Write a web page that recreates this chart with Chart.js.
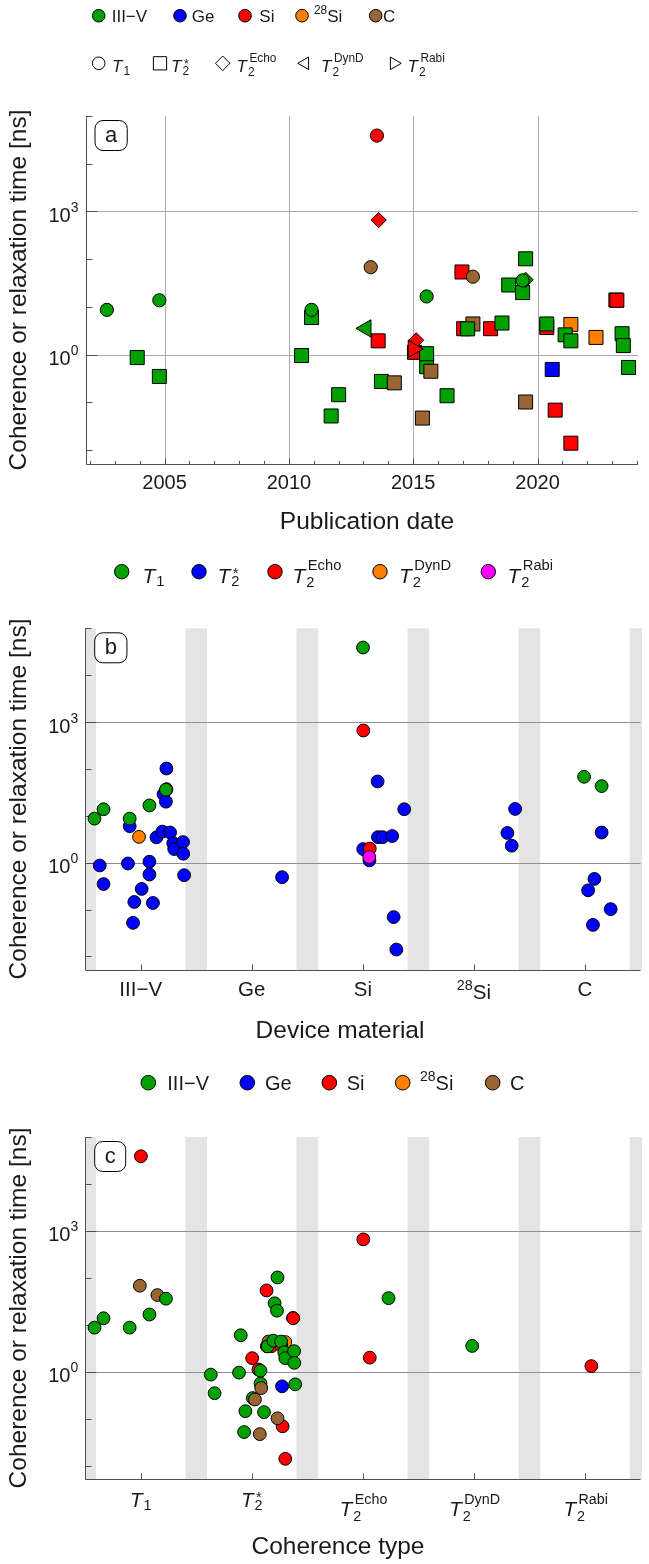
<!DOCTYPE html>
<html>
<head>
<meta charset="utf-8">
<title>Coherence and relaxation times</title>
<script src="https://cdn.jsdelivr.net/npm/chart.js@4.4.1/dist/chart.umd.min.js"></script>
<style>
  html, body { margin: 0; padding: 0; background: #fff; }
  #page { position: relative; width: 649px; height: 1564px; overflow: hidden; font-family: "Liberation Sans", Arial, sans-serif; color: #1a1a1a; }
  #page canvas { position: absolute; left: 0; }
  .ytitle, .xtitle { position: absolute; white-space: nowrap; font-size: 24.5px; line-height: 1; }
  .ytitle { left: 18px; transform: translate(-50%, -50%) rotate(-90deg); }
  .xtitle { transform: translate(-50%, -50%); }
</style>
</head>
<body>
<div id="page">
  <canvas id="byDate" width="649" height="540" style="top:0"></canvas>
  <canvas id="byMaterial" width="649" height="510" style="top:540px"></canvas>
  <canvas id="byType" width="649" height="514" style="top:1050px"></canvas>
  <div class="ytitle" style="top:290px">Coherence or relaxation time [ns]</div>
  <div class="xtitle" style="left:367px;top:521px">Publication date</div>
  <div class="ytitle" style="top:799px">Coherence or relaxation time [ns]</div>
  <div class="xtitle" style="left:340px;top:1030px">Device material</div>
  <div class="ytitle" style="top:1308px">Coherence or relaxation time [ns]</div>
  <div class="xtitle" style="left:338px;top:1546px">Coherence type</div>
</div>
<script>
const materials = ["III−V", "Ge", "Si", "28Si", "C"]
const coherenceTypes = ["T1", "T2*", "T2 Echo", "T2 DynD", "T2 Rabi"]
const materialColors = ["#00a000", "#0000ff", "#ff0000", "#ff8000", "#996633"]
const typeColors = ["#00a000", "#0000ff", "#ff0000", "#ff8000", "#ff00ff"]

// tick labels
const materialLabels = [{ text: "III−V" }, { text: "Ge" }, { text: "Si" }, { pre: "28", text: "Si" }, { text: "C" }]
const typeLabels = [
  { text: "T", italic: true, sub: "1" },
  { text: "T", italic: true, sub: "2", sup: "*" },
  { text: "T", italic: true, sub: "2", sup: "Echo" },
  { text: "T", italic: true, sub: "2", sup: "DynD" },
  { text: "T", italic: true, sub: "2", sup: "Rabi" },
]
const yearTicks = [2005, 2010, 2015, 2020]
const decadeTicks = [0.01, 0.1, 1, 10, 100, 1000, 10000, 100000]
const labelledDecades = [1, 1000]

// one entry per reported time, listed in drawing order
const pubYear = [
  2021.34, 2022.35, 2023.15,                                                  // 28Si T2*
  2013.59, 2015.05, 2016.96, 2017.03, 2018.11, 2020.37, 2020.71, 2021.34, 2023.19, // Si T2*
  2013.72, 2015.54,                                                           // III-V T2*
  2014.24, 2015.37, 2015.71, 2017.40, 2019.52,                                // C T2*
  2013.29, 2017.40,                                                           // C T1
  2020.59,                                                                    // Ge T2*
  2003.90, 2004.79, 2010.51, 2010.91, 2011.70, 2012.00, 2015.54, 2016.36, 2017.19, 2018.57,
  2018.84, 2019.40, 2019.52, 2020.37, 2021.11, 2021.34, 2023.40, 2023.45, 2023.66, // III-V T2*
  2013.61, 2015.12,                                                           // Si echo
  2015.00,                                                                    // Si Rabi
  2019.52,                                                                    // III-V echo
  2013.10,                                                                    // III-V DynD
  2002.68, 2004.79, 2010.91, 2015.54, 2019.40,                                // III-V T1
  2013.54,                                                                    // Si T1
]
const timeNs = [
  4.3, 2.3, 14,
  1.95, 1.12, 54, 3.5, 3.5, 3.7, 0.069, 0.014, 13.8,
  0.275, 0.56,
  0.257, 0.047, 0.45, 4.4, 0.102,
  68, 43,
  0.49,
  0.87, 0.35, 0.96, 6.0, 0.052, 0.145, 1.05, 0.138, 3.47, 4.6,
  28.8, 20, 102, 4.4, 2.6, 1.95, 2.75, 1.55, 0.54,
  660, 2.0,
  1.32,
  37,
  3.55,
  8.7, 13.8, 8.7, 16.6, 36,
  38900,
]
const pointMaterial = [
  3, 3, 3,
  2, 2, 2, 2, 2, 2, 2, 2, 2,
  0, 0,
  4, 4, 4, 4, 4,
  4, 4,
  1,
  0, 0, 0, 0, 0, 0, 0, 0, 0, 0,
  0, 0, 0, 0, 0, 0, 0, 0, 0,
  2, 2,
  2,
  0,
  0,
  0, 0, 0, 0, 0,
  2,
]
const pointType = [
  1, 1, 1,
  1, 1, 1, 1, 1, 1, 1, 1, 1,
  1, 1,
  1, 1, 1, 1, 1,
  0, 0,
  1,
  1, 1, 1, 1, 1, 1, 1, 1, 1, 1,
  1, 1, 1, 1, 1, 1, 1, 1, 1,
  2, 2,
  4,
  2,
  3,
  0, 0, 0, 0, 0,
  0,
]

// styling
const FONT = '"Liberation Sans", Arial, sans-serif'
const typePointStyle = ["circle", "rect", "rectRot", "triangle", "triangle"]
const typeRotation = [0, 0, 0, -90, 90]
const typeRadius = [6.6, 9.9, 7.6, 10, 10]
const typeLegendShape = ["circle", "square", "diamond", "left", "right"]
const yMin = Math.pow(10, -2.29)
const yMax = 1e5

// horizontal spread inside a category follows the publication year
const spread = pubYear.map((t) => (t - 2013.5) / 26)

function fontOf(size, italic) {
  return (italic ? "italic " : "") + size + "px " + FONT
}

function measureRich(ctx, p, size) {
  const small = size * 0.7
  ctx.font = fontOf(small)
  const pre = p.pre ? ctx.measureText(p.pre).width : 0
  const sup = p.sup ? ctx.measureText(p.sup).width : 0
  const sub = p.sub ? ctx.measureText(p.sub).width : 0
  ctx.font = fontOf(size, p.italic)
  const main = ctx.measureText(p.text).width
  const gap = p.italic && (p.sup || p.sub) ? 1 : 0
  return { pre, main, gap, total: pre + main + gap + Math.max(sup, sub) }
}

function drawRich(ctx, p, x, baseline, size, align) {
  const m = measureRich(ctx, p, size)
  let cx = align === "center" ? x - m.total / 2 : align === "right" ? x - m.total : x
  const small = size * 0.7
  const stacked = p.sup && p.sub && p.sup !== "*"
  ctx.textAlign = "left"
  ctx.textBaseline = "alphabetic"
  if (p.pre) {
    ctx.font = fontOf(small)
    ctx.fillText(p.pre, cx, baseline - size * 0.45)
    cx += m.pre
  }
  ctx.font = fontOf(size, p.italic)
  ctx.fillText(p.text, cx, baseline)
  cx += m.main + m.gap
  ctx.font = fontOf(small)
  if (p.sup) {
    const raise = p.sup === "*" ? size * 0.22 : stacked ? size * 0.62 : size * (p.raise || 0.45)
    ctx.fillText(p.sup, cx + (p.italic ? 1.5 : 0), baseline - raise)
  }
  if (p.sub) ctx.fillText(p.sub, cx, baseline + (stacked ? size * 0.22 : size * 0.15))
}

function drawMarker(ctx, shape, x, y, r, fill) {
  ctx.beginPath()
  if (shape === "square") ctx.rect(x - r, y - r, 2 * r, 2 * r)
  else if (shape === "diamond") {
    ctx.moveTo(x, y - r); ctx.lineTo(x + r, y); ctx.lineTo(x, y + r); ctx.lineTo(x - r, y); ctx.closePath()
  } else if (shape === "left" || shape === "right") {
    const s = shape === "left" ? -1 : 1
    ctx.moveTo(x + s * r, y); ctx.lineTo(x - s * r * 0.5, y - r * 0.866); ctx.lineTo(x - s * r * 0.5, y + r * 0.866); ctx.closePath()
  } else ctx.arc(x, y, r, 0, Math.PI * 2)
  ctx.fillStyle = fill
  ctx.fill()
  ctx.lineWidth = 1
  ctx.strokeStyle = "#000"
  ctx.stroke()
}

function roundRect(ctx, x, y, w, h, r) {
  ctx.beginPath()
  ctx.moveTo(x + r, y)
  ctx.arcTo(x + w, y, x + w, y + h, r)
  ctx.arcTo(x + w, y + h, x, y + h, r)
  ctx.arcTo(x, y + h, x, y, r)
  ctx.arcTo(x, y, x + w, y, r)
  ctx.closePath()
}

// axes, bands, grid, tick labels, panel letter and legends
const framePlugin = {
  id: "frame",
  beforeDatasetsDraw(chart, args, o) {
    const { ctx, chartArea: a } = chart
    const x = chart.scales.x
    const y = chart.scales.y
    ctx.save()
    if (o.categories) {
      ctx.fillStyle = "#e4e4e4"
      for (let k = -1; k < o.categories.length; k++) {
        const l = Math.max(a.left, x.getPixelForValue(k + 0.4025))
        const r = Math.min(a.right + 1.5, x.getPixelForValue(k + 0.5975))
        if (r > l) ctx.fillRect(l, a.top, r - l, a.bottom - a.top)
      }
    }
    ctx.strokeStyle = o.gridColor
    ctx.lineWidth = 1
    ctx.beginPath()
    labelledDecades.forEach((v) => {
      const py = Math.round(y.getPixelForValue(v)) + 0.5
      ctx.moveTo(a.left, py); ctx.lineTo(a.right, py)
    })
    if (!o.categories) {
      yearTicks.forEach((t) => {
        const px = Math.round(x.getPixelForValue(t)) + 0.5
        ctx.moveTo(px, a.top); ctx.lineTo(px, a.bottom)
      })
    }
    ctx.stroke()

    const ax = Math.round(a.left) + 0.5
    const ay = Math.round(a.bottom) + 0.5
    ctx.strokeStyle = "#505050"
    ctx.beginPath()
    ctx.moveTo(ax, a.top); ctx.lineTo(ax, ay); ctx.lineTo(a.right, ay)
    decadeTicks.forEach((v) => {
      const py = Math.round(y.getPixelForValue(v)) + 0.5
      ctx.moveTo(ax, py); ctx.lineTo(ax + (labelledDecades.includes(v) ? 11 : 6), py)
    })
    if (o.categories) {
      o.categories.forEach((_, k) => {
        const px = Math.round(x.getPixelForValue(k)) + 0.5
        ctx.moveTo(px, ay); ctx.lineTo(px, ay - 6)
      })
    } else {
      for (let t = Math.ceil(x.min); t <= x.max; t++) {
        const px = Math.round(x.getPixelForValue(t)) + 0.5
        ctx.moveTo(px, ay); ctx.lineTo(px, ay - (t % 5 === 0 ? 6 : 3.5))
      }
    }
    ctx.stroke()

    ctx.fillStyle = "#1a1a1a"
    labelledDecades.forEach((v) => {
      const p = { text: "10", sup: String(Math.round(Math.log10(v))), raise: 0.5 }
      drawRich(ctx, p, a.left - 7, y.getPixelForValue(v) + 10.5, 20, "right")
    })
    if (o.categories) {
      o.categories.forEach((p, k) => {
        let base = a.bottom + 26
        if (p.pre) base += 3
        if (p.sup && p.sup !== "*") base = a.bottom + 37
        else if (p.sub) base = a.bottom + 27.5
        drawRich(ctx, p, x.getPixelForValue(k), base, 20.5, "center")
      })
    } else {
      yearTicks.forEach((t) => drawRich(ctx, { text: String(t) }, x.getPixelForValue(t), a.bottom + 25, 20, "center"))
    }
    ctx.restore()
  },
  afterDraw(chart, args, o) {
    const { ctx, chartArea: a } = chart
    ctx.save()
    ctx.font = fontOf(22)
    const w = ctx.measureText(o.letter).width + 20
    roundRect(ctx, a.left + 9.5, a.top + 4.5, w, 30, 8)
    ctx.fillStyle = "#fff"
    ctx.fill()
    ctx.strokeStyle = "#000"
    ctx.lineWidth = 1
    ctx.stroke()
    ctx.fillStyle = "#1a1a1a"
    ctx.textAlign = "center"
    ctx.textBaseline = "middle"
    ctx.fillText(o.letter, a.left + 9.5 + w / 2, a.top + 20)

    o.legends.forEach((L) => {
      L.labels.forEach((p, i) => {
        const shape = L.shapes ? L.shapes[i] : "circle"
        const r = shape === "circle" ? L.r : shape === "square" ? L.r * 1.05 : L.r * 1.15
        drawMarker(ctx, shape, L.marks[i], L.y, r, L.colors ? L.colors[i] : "#fff")
        ctx.fillStyle = "#1a1a1a"
        const base = L.y + (p.sub ? 0.52 : 0.365) * L.size
        drawRich(ctx, p, L.texts[i], base, L.size, "left")
      })
    })
    ctx.restore()
  },
}

function panel(id, xs, colors, styled, xMin, xMax, padding, frame) {
  const dataset = {
    data: xs.map((v, i) => ({ x: v, y: timeNs[i] })),
    pointBackgroundColor: colors,
    pointBorderColor: "#000",
    pointBorderWidth: 1,
    pointStyle: styled ? pointType.map((k) => typePointStyle[k]) : "circle",
    pointRotation: styled ? pointType.map((k) => typeRotation[k]) : 0,
    pointRadius: styled ? pointType.map((k) => typeRadius[k]) : 6.4,
    clip: false,
  }
  return new Chart(document.getElementById(id), {
    type: "scatter",
    data: { datasets: [dataset] },
    options: {
      responsive: false,
      animation: false,
      devicePixelRatio: 1,
      events: [],
      layout: { padding },
      plugins: { legend: { display: false }, tooltip: { enabled: false }, frame },
      scales: {
        x: { type: "linear", min: xMin, max: xMax, display: false },
        y: { type: "logarithmic", min: yMin, max: yMax, display: false },
      },
    },
    plugins: [framePlugin],
  })
}

panel(
  "byDate",
  pubYear,
  pointMaterial.map((m) => materialColors[m]),
  true,
  2001.82, 2024.04,
  { left: 85.5, right: 0, top: 116, bottom: 76 },
  {
    letter: "a",
    gridColor: "#ababab",
    legends: [
      { labels: materialLabels, colors: materialColors, y: 15.7, size: 17, r: 6.3,
        marks: [98.7, 180, 245, 302, 375.7], texts: [111.7, 191.7, 259.3, 314, 383] },
      { labels: typeLabels, shapes: typeLegendShape, y: 63.3, size: 17, r: 6.3,
        marks: [98.7, 160, 222.7, 305, 394], texts: [112, 171, 236.5, 321, 407.5] },
    ],
  }
)

panel(
  "byMaterial",
  pointMaterial.map((m, i) => m + spread[i]),
  pointType.map((k) => typeColors[k]),
  false,
  -0.5, 4.5,
  { left: 85.2, right: 8.5, top: 88.3, bottom: 80 },
  {
    letter: "b",
    gridColor: "#8f8f8f",
    categories: materialLabels,
    legends: [
      { labels: typeLabels, colors: typeColors, y: 31.7, size: 21, r: 7.2,
        marks: [121.7, 199, 275, 380, 488.3], texts: [142.5, 217.5, 292.5, 399, 507.5] },
    ],
  }
)

panel(
  "byType",
  pointType.map((k, i) => k + spread[i]),
  pointMaterial.map((m) => materialColors[m]),
  false,
  -0.5, 4.5,
  { left: 85.2, right: 8.5, top: 87, bottom: 84.7 },
  {
    letter: "c",
    gridColor: "#8f8f8f",
    categories: typeLabels,
    legends: [
      { labels: materialLabels, colors: materialColors, y: 32.7, size: 20, r: 7.3,
        marks: [148.3, 247.3, 329.3, 402.7, 492.7], texts: [167.3, 265, 346.7, 420, 510] },
    ],
  }
)
</script>
</body>
</html>
